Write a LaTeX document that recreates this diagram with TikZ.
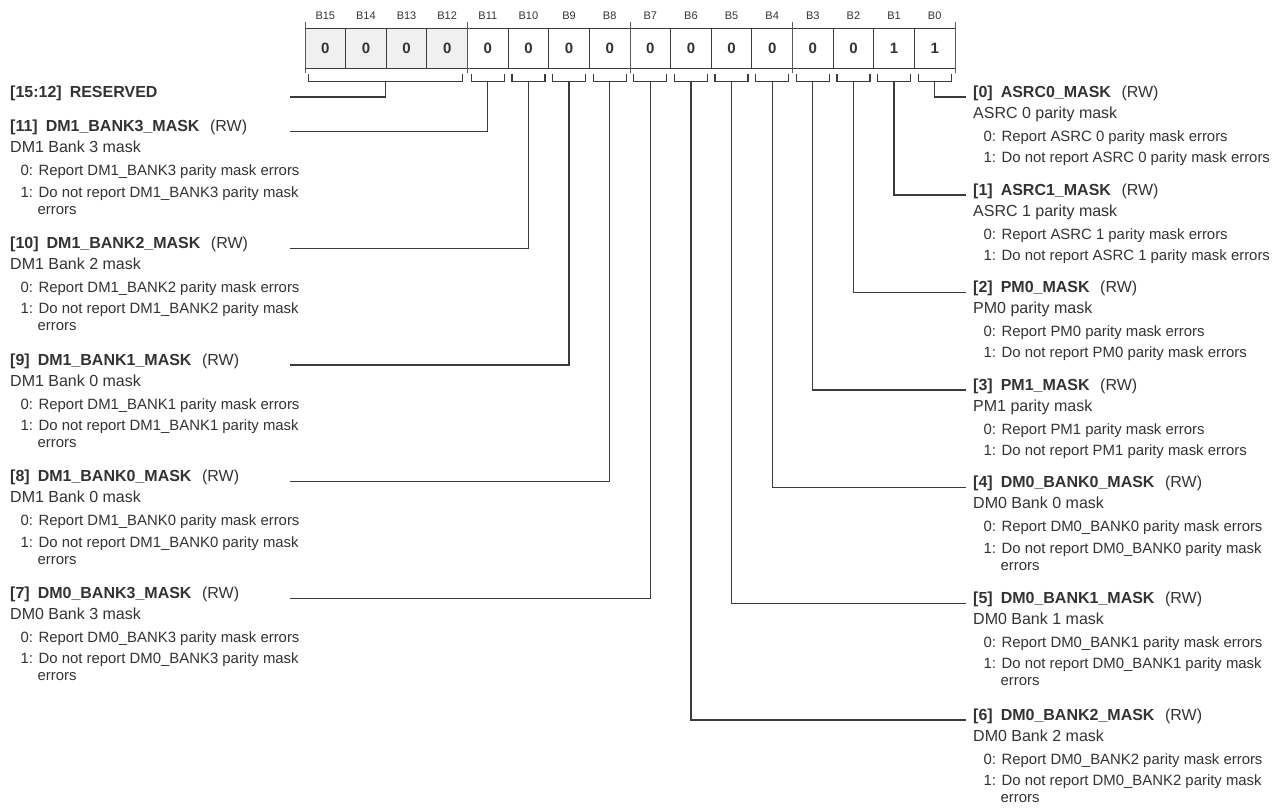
\documentclass[tikz,border=0pt]{standalone}
\usepackage{fontspec}
\setmainfont{Liberation Sans}
\usetikzlibrary{positioning}
\definecolor{regline}{HTML}{3C3C3C}
\definecolor{regtext}{HTML}{333333}
\definecolor{resfill}{HTML}{F0F0F0}

\tikzset{
  bitcell/.style = {draw=regline, line width=0.9pt, minimum width=40.625pt, minimum height=40pt,
    inner sep=0pt, text=regtext, font=\fontsize{15}{18}\selectfont\bfseries},
  bitname/.style = {inner sep=0pt, text=regtext, font=\fontsize{11}{12}\selectfont},
  wire/.style = {draw=regline, line width=1.2pt},
  nibtick/.style = {draw=regline!85, line width=0.8pt},
  fldtitle/.style = {anchor=base west, inner sep=0pt, text=regtext, font=\fontsize{16}{19}\selectfont},
  flditem/.style = {anchor=base west, inner sep=0pt, text=regtext, font=\fontsize{14.9}{18}\selectfont}
}

% #1 name, #2 x, #3 y of leader, #4 bit, #5 field, #6 description,
% #7 text of 0, #8 text of 1, #9 wrapped rest of 1
\newcommand{\regfield}[9]{%
  \node[fldtitle] (#1) at (#2,#3) {\textbf{[#4]\hspace{8pt}#5}\hspace{10.5pt}(RW)};
  \node[fldtitle] (#1d) at (#2,{#3+21}) {#6};
  \node[flditem] (#1z) at ({#2+10.5},{#3+44}) {0: #7};
  \node[flditem] (#1o) at ({#2+10.5},{#3+65.5}) {1: #8};
  \node[flditem] (#1w) at ({#2+27.5},{#3+82.5}) {#9};
}

\begin{document}
\begin{tikzpicture}[x=1pt, y=-1pt]
\useasboundingbox (0,0) rectangle (1284,807);

% register cells
\foreach \b in {15,14,13,12}
  \node[bitcell, fill=resfill] (c\b) at ({325.3125+40.625*(15-\b)},48) {0};
\foreach \b/\v in {11/0,10/0,9/0,8/0,7/0,6/0,5/0,4/0,3/0,2/0,1/1,0/1}
  \node[bitcell] (c\b) at ({325.3125+40.625*(15-\b)},48) {\v};
\foreach \b in {0,...,15}
  \node[bitname, above=8pt of c\b] (n\b) {B\b};
\foreach \x in {305,467.5,630,792.5,955}
  \draw[nibtick] (\x,22) -- (\x,73);

% brackets under the bits
\foreach \b in {0,...,11} {
  \draw[wire] ([xshift=-16.5pt,yshift=-6pt]c\b.south) -- ++(0,7) -- ++(33,0) -- ++(0,-7);
  \coordinate (k\b) at ([yshift=-13pt]c\b.south);
}
\draw[wire] ([xshift=4pt,yshift=-6pt]c15.south west) -- ++(0,7) -- ++(154,0) -- ++(0,-7);
\coordinate (k12) at ([xshift=81.25pt,yshift=-13pt]c15.south west);

% left fields
\node[fldtitle, font=\fontsize{16}{19}\selectfont\bfseries] (f12) at (10,97.5) {[15:12]\hspace{8pt}RESERVED};
\regfield{f11}{10}{131.7}{11}{DM1\_BANK3\_MASK}{DM1 Bank 3 mask}{Report DM1\_BANK3 parity mask errors}{Do not report DM1\_BANK3 parity mask}{errors}
\regfield{f10}{10}{248.3}{10}{DM1\_BANK2\_MASK}{DM1 Bank 2 mask}{Report DM1\_BANK2 parity mask errors}{Do not report DM1\_BANK2 parity mask}{errors}
\regfield{f9}{10}{365}{9}{DM1\_BANK1\_MASK}{DM1 Bank 0 mask}{Report DM1\_BANK1 parity mask errors}{Do not report DM1\_BANK1 parity mask}{errors}
\regfield{f8}{10}{481.7}{8}{DM1\_BANK0\_MASK}{DM1 Bank 0 mask}{Report DM1\_BANK0 parity mask errors}{Do not report DM1\_BANK0 parity mask}{errors}
\regfield{f7}{10}{598.3}{7}{DM0\_BANK3\_MASK}{DM0 Bank 3 mask}{Report DM0\_BANK3 parity mask errors}{Do not report DM0\_BANK3 parity mask}{errors}

% right fields
\regfield{f0}{973}{97}{0}{ASRC0\_MASK}{ASRC 0 parity mask}{Report ASRC 0 parity mask errors}{Do not report ASRC 0 parity mask errors}{}
\regfield{f1}{973}{195}{1}{ASRC1\_MASK}{ASRC 1 parity mask}{Report ASRC 1 parity mask errors}{Do not report ASRC 1 parity mask errors}{}
\regfield{f2}{973}{292.3}{2}{PM0\_MASK}{PM0 parity mask}{Report PM0 parity mask errors}{Do not report PM0 parity mask errors}{}
\regfield{f3}{973}{390}{3}{PM1\_MASK}{PM1 parity mask}{Report PM1 parity mask errors}{Do not report PM1 parity mask errors}{}
\regfield{f4}{973}{487.7}{4}{DM0\_BANK0\_MASK}{DM0 Bank 0 mask}{Report DM0\_BANK0 parity mask errors}{Do not report DM0\_BANK0 parity mask}{errors}
\regfield{f5}{973}{603.3}{5}{DM0\_BANK1\_MASK}{DM0 Bank 1 mask}{Report DM0\_BANK1 parity mask errors}{Do not report DM0\_BANK1 parity mask}{errors}
\regfield{f6}{973}{720}{6}{DM0\_BANK2\_MASK}{DM0 Bank 2 mask}{Report DM0\_BANK2 parity mask errors}{Do not report DM0\_BANK2 parity mask}{errors}

% leaders
\foreach \b/\y in {12/97,11/131.7,10/248.3,9/365,8/481.7,7/598.3} {
  \coordinate (e\b) at (290,\y);
  \draw[wire] (k\b) |- (e\b);
}
\foreach \b in {0,...,6}
  \draw[wire] (k\b) |- ([xshift=-7pt]f\b.base west);
\end{tikzpicture}
\end{document}
